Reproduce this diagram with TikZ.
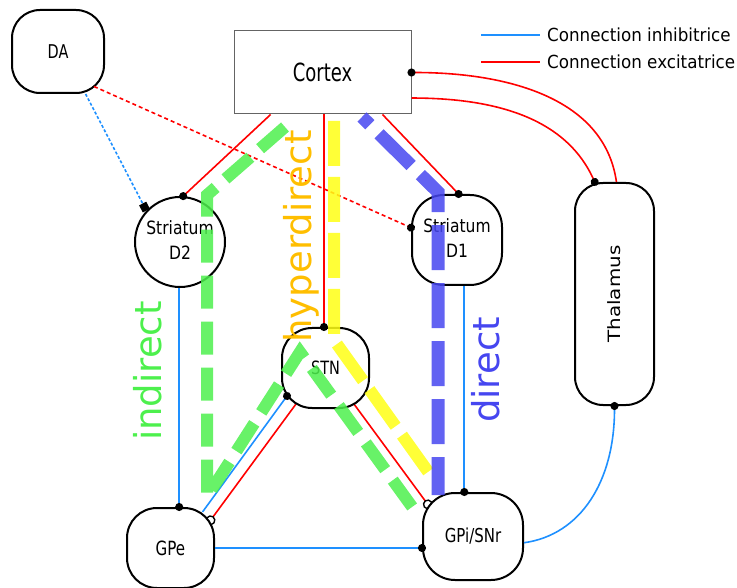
\documentclass[tikz,border=0pt]{standalone}
\usepackage{graphicx}
\usepackage{fontspec}
\setmainfont{DejaVu Sans}
\usetikzlibrary{arrows.meta,calc}
\pgfdeclarelayer{bg}
\pgfsetlayers{bg,main}
\definecolor{inhb}{RGB}{30,144,255}
\definecolor{excr}{RGB}{255,0,0}
\definecolor{pgreen}{RGB}{77,240,77}
\definecolor{pyellow}{RGB}{255,255,20}
\definecolor{pblue}{RGB}{70,70,240}
\definecolor{porange}{RGB}{255,190,0}
\definecolor{cgray}{RGB}{100,100,100}
\newcommand{\hsq}[3]{{\fontsize{#1}{#1}\selectfont\scalebox{#2}[1]{#3}}}
\tikzset{
  nd/.style={draw=black,line width=2pt,fill=white,inner sep=0pt},
  inh/.style={draw=inhb,line width=1.6pt},
  excl/.style={draw=excr,line width=1.6pt},
  edot/.style={-{Circle[black,length=8pt,width=8pt]},shorten >=-4pt},
  sdot/.style={{Circle[black,length=8pt,width=8pt]}-,shorten <=-4pt},
  eopen/.style={-{Circle[open,black,length=10pt,width=10pt,line width=1.4pt]},shorten >=-5pt},
  esq/.style={-{Square[black,length=8pt,width=8pt]}},
  pathway/.style={line width=12pt,opacity=0.85},
  lbl/.style={rotate=90,font=\fontsize{37}{40}\selectfont,inner sep=0pt},
  legtext/.style={anchor=base west,inner sep=0pt}
}
\begin{document}
\begin{tikzpicture}[x=1pt,y=-1pt]
\useasboundingbox (0,0) rectangle (737,588);
% nodes
\node[nd,rounded corners=28pt,minimum width=92pt,minimum height=83pt] (DA) at (58,51.5) {\hsq{19}{0.76}{DA}};
\node[draw=cgray,line width=1pt,fill=white,minimum width=177pt,minimum height=83pt,inner sep=0pt] (Cortex) at (322.5,72.5) {\hsq{25}{0.72}{Cortex}};
\node[nd,circle,minimum size=90pt] (D2) at (180,242) {\fontsize{18.3}{25}\selectfont\scalebox{0.85}[1]{\begin{tabular}{@{}c@{}}Striatum\\D2\end{tabular}}};
\node[nd,rounded corners=32pt,minimum width=90pt,minimum height=90pt] (D1) at (457,240) {\fontsize{18.3}{25}\selectfont\scalebox{0.85}[1]{\begin{tabular}{@{}c@{}}Striatum\\D1\end{tabular}}};
\node[nd,rounded corners=30pt,minimum width=87pt,minimum height=80pt] (STN) at (325.5,368) {\hsq{18.3}{0.79}{STN}};
\node[nd,rounded corners=30pt,minimum width=87pt,minimum height=80pt] (GPe) at (170.5,548) {\hsq{19.6}{0.77}{GPe}};
\node[nd,rounded corners=32pt,minimum width=100pt,minimum height=87pt] (GPi) at (473,536.5) {\hsq{19.2}{0.78}{GPi/SNr}};
\node[nd,rounded corners=28pt,minimum width=79pt,minimum height=222pt] (Thal) at (614.5,294) {};
\node[rotate=90,inner sep=0pt] (thallbl) at (Thal) {\hsq{17}{1.17}{Thalamus}};
% connectors partly hidden behind nodes
\begin{pgfonlayer}{bg}
\draw[excl,eopen] ($(STN)+(-29.5,36)$) -- ($(GPe)+(40,-27.7)$);
\draw[excl,eopen] ($(STN)+(25.5,32)$) -- ($(GPi)+(-45.2,-32.1)$);
\end{pgfonlayer}
% connectors
\draw[inh,dash pattern=on 3pt off 2pt,esq] (DA.-57) -- (D2.137);
\draw[excl,dash pattern=on 4pt off 3pt,edot] ($(DA)+(36,35)$) -- (D1.165);
\draw[excl,edot] (Cortex.219) -- (D2.86);
\draw[excl,edot] (Cortex.-35.4) -- (D1.88);
\draw[excl,edot] (Cortex.-88) -- (Cortex.-88 |- STN.north);
\draw[excl,sdot] (Cortex.east) .. controls ($(Cortex.east)+(94,0)$) and ($(Thal.89)+(-12,-85)$) .. (Thal.89);
\draw[excl,edot] (Cortex.-16.7) .. controls ($(Cortex.-16.7)+(80,0)$) and ($(Thal.100)+(-30,-66)$) .. (Thal.100);
\draw[inh,sdot] (Thal.south) .. controls ($(Thal.south)+(0,75)$) and ($(GPi.-7)+(57,-8)$) .. (GPi.-7);
\draw[inh,edot] (D2.-91) -- (D2.-91 |- GPe.north);
\draw[inh,edot] (D1.-81) -- (D1.-81 |- GPi.north);
\draw[inh,edot] (GPe.east) -- (GPe.east -| GPi.west);
\draw[inh,edot] ($(GPe)+(32,-36)$) -- ($(STN)+(-38.5,28)$);
% pathways
\draw[pgreen,pathway,dash pattern=on 33pt off 13pt] (285,127) -- (207,195) -- (207,497) -- (300,352) -- (418,515);
\draw[pyellow,pathway,dash pattern=on 45pt off 11pt] (334,121) -- (334,340) -- (434,480);
\draw[pblue,pathway,line width=13pt,dash pattern=on 45pt off 13pt,dash phase=34pt] (362,117) -- (438,192) -- (438,495);
% labels
\node[lbl,text=pgreen] (lind) at (147.5,371) {indirect};
\node[lbl,text=porange] (lhyp) at (301.5,236.5) {hyperdirect};
\node[lbl,text=pblue] (ldir) at (486,370) {direct};
% legend
\draw[inh] (481,35) -- (540,35);
\draw[excl] (481,62) -- (540,62);
\node[legtext] (leg1) at (547,41.5) {\hsq{18}{0.93}{Connection inhibitrice}};
\node[legtext] (leg2) at (547,68.5) {\hsq{18}{0.93}{Connection excitatrice}};
\end{tikzpicture}
\end{document}
